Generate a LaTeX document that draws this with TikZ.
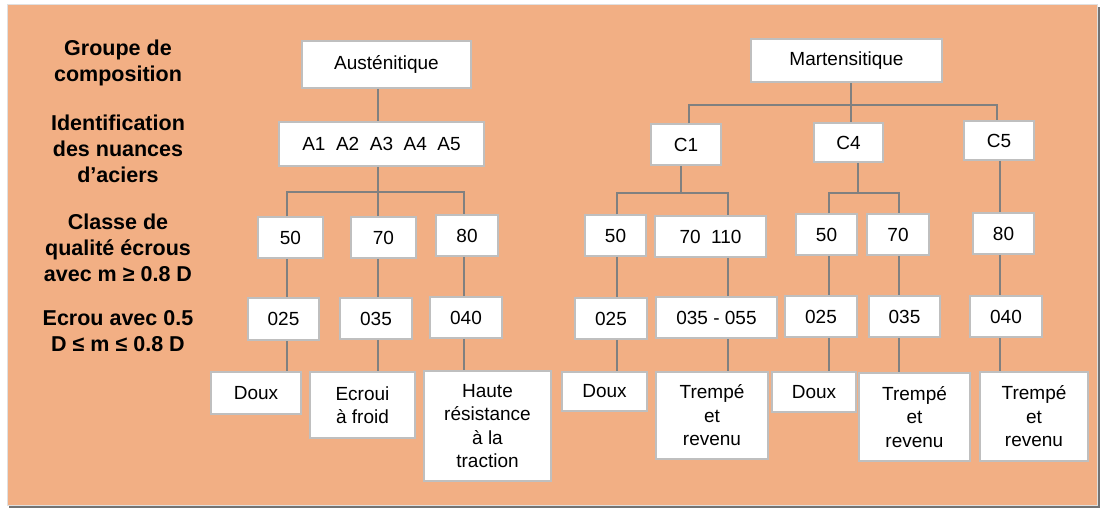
\documentclass[tikz,border=0pt]{standalone}
\usepackage{fontspec}
\setmainfont{Liberation Sans}
\definecolor{orangebg}{HTML}{F2AF84}

\begin{document}
\begin{tikzpicture}[x=0.5pt, y=-0.5pt, % 1 unit = 1 px
boxx/.style={rectangle, draw=black!25, line width=0.75pt, fill=white, inner sep=0pt, align=center, font=\fontsize{9.5}{11.75}\selectfont},
headd/.style={align=center, inner sep=0pt, font=\fontsize{10.75}{13}\selectfont\bfseries},
wh/.style 2 args={minimum width=#1*0.5pt, minimum height=#2*0.5pt},
linkk/.style={draw=black!50, line width=0.6pt},
]
  \useasboundingbox (0,0) rectangle (1104,510);
  \fill[black!55] (9,7) rectangle (1100,508);
  \fill[orangebg, draw=black!12] (7,4) rectangle (1097,505);

  \node (groupe) [headd] at (118,63) {Groupe de\\composition};
  \node (identif) [headd] at (118,149) {Identification\\des nuances\\d’aciers};
  \node (classe) [headd] at (118,247.5) {Classe de\\qualité écrous\\avec m ≥ 0.8 D};
  \node (ecrou) [headd] at (118,331.5) {Ecrou avec 0.5\\D ≤ m ≤ 0.8 D};

  \node (austenitique) [boxx, wh={169}{47}] at (386.5,64.5) {Austénitique};
  \node (nuancesA) [boxx, wh={205}{44}] at (381.5,144) {A1~~A2~~A3~~A4~~A5};
  \node (classeA50) [boxx, wh={65}{41}] at (290.5,237.5) {50};
  \node (classeA70) [boxx, wh={65}{41}] at (383.5,237.5) {70};
  \node (classeA80) [boxx, wh={62}{41}] at (467,235.5) {80};
  \node (ecrouA025) [boxx, wh={71}{42}] at (283.5,319) {025};
  \node (ecrouA035) [boxx, wh={72}{41}] at (376,318.5) {035};
  \node (ecrouA040) [boxx, wh={72}{41}] at (466,317.5) {040};
  \node (etatA1) [boxx, wh={90}{42}] at (256,393) {Doux};
  \node (etatA2) [boxx, wh={105}{66}] at (362.5,405) {Ecroui\\à froid};
  \node (etatA3) [boxx, wh={127}{110}] at (487.5,426) {Haute\\résistance\\à la\\traction};

  \node (martensitique) [boxx, wh={191}{43}] at (846.5,60.5) {Martensitique};
  \node (nuanceC1) [boxx, wh={70}{41}] at (686,144.5) {C1};
  \node (nuanceC4) [boxx, wh={69}{39}] at (848.5,142.5) {C4};
  \node (nuanceC5) [boxx, wh={70}{39}] at (999,140.5) {C5};
  \node (classeC1a) [boxx, wh={61}{41}] at (615.5,235.5) {50};
  \node (classeC1b) [boxx, wh={111}{41}] at (710.5,236.5) {70~~110};
  \node (classeC4a) [boxx, wh={61}{41}] at (826.5,234.5) {50};
  \node (classeC4b) [boxx, wh={62}{41}] at (898,234.5) {70};
  \node (classeC5) [boxx, wh={61}{41}] at (1003.5,233.5) {80};
  \node (ecrouC1a) [boxx, wh={72}{41}] at (611,318.5) {025};
  \node (ecrouC1b) [boxx, wh={121}{41}] at (716.5,317.5) {035 - 055};
  \node (ecrouC4a) [boxx, wh={72}{41}] at (821,316.5) {025};
  \node (ecrouC4b) [boxx, wh={71}{41}] at (904.5,316.5) {035};
  \node (ecrouC5) [boxx, wh={72}{41}] at (1006,316.5) {040};
  \node (etatC1a) [boxx, wh={85}{39}] at (604.5,391.5) {Doux};
  \node (etatC1b) [boxx, wh={112}{87}] at (712,415.5) {Trempé\\et\\revenu};
  \node (etatC4a) [boxx, wh={84}{40}] at (814,392) {Doux};
  \node (etatC4b) [boxx, wh={111}{88}] at (914.5,417) {Trempé\\et\\revenu};
  \node (etatC5) [boxx, wh={108}{89}] at (1034,416.5) {Trempé\\et\\revenu};

  % columns and buses
  \coordinate (colA1) at (287,0);
  \coordinate (colA2) at (378,0);
  \coordinate (colA3) at (464,0);
  \coordinate (busA) at (0,192);
  \coordinate (colM) at (851,0);
  \coordinate (colC1top) at (689,0);
  \coordinate (colC5top) at (997,0);
  \coordinate (busM) at (0,105);
  \coordinate (colC1) at (681,0);
  \coordinate (colC1a) at (617,0);
  \coordinate (colC1b) at (728,0);
  \coordinate (colC4) at (858,0);
  \coordinate (colC4a) at (829,0);
  \coordinate (colC4b) at (899,0);
  \coordinate (colC5) at (1000,0);
  \coordinate (busC) at (0,193);

  \draw[linkk] (austenitique.south -| colA2) -- (nuancesA.north -| colA2);
  \draw[linkk] (nuancesA.south -| colA2) -- (classeA70.north -| colA2);
  \draw[linkk] (classeA50.north -| colA1) |- (busA -| colA3) -- (classeA80.north -| colA3);
  \draw[linkk] (classeA50.south -| colA1) -- (ecrouA025.north -| colA1);
  \draw[linkk] (ecrouA025.south -| colA1) -- (etatA1.north -| colA1);
  \draw[linkk] (classeA70.south -| colA2) -- (ecrouA035.north -| colA2);
  \draw[linkk] (ecrouA035.south -| colA2) -- (etatA2.north -| colA2);
  \draw[linkk] (classeA80.south -| colA3) -- (ecrouA040.north -| colA3);
  \draw[linkk] (ecrouA040.south -| colA3) -- (etatA3.north -| colA3);

  \draw[linkk] (martensitique.south -| colM) -- (nuanceC4.north -| colM);
  \draw[linkk] (nuanceC1.north -| colC1top) |- (busM -| colC5top) -- (nuanceC5.north -| colC5top);
  \draw[linkk] (nuanceC1.south -| colC1) -- (busC -| colC1);
  \draw[linkk] (classeC1a.north -| colC1a) |- (busC -| colC1b) -- (classeC1b.north -| colC1b);
  \draw[linkk] (nuanceC4.south -| colC4) -- (busC -| colC4);
  \draw[linkk] (classeC4a.north -| colC4a) |- (busC -| colC4b) -- (classeC4b.north -| colC4b);
  \draw[linkk] (nuanceC5.south -| colC5) -- (classeC5.north -| colC5);

  \draw[linkk] (classeC1a.south -| colC1a) -- (ecrouC1a.north -| colC1a);
  \draw[linkk] (ecrouC1a.south -| colC1a) -- (etatC1a.north -| colC1a);
  \draw[linkk] (classeC1b.south -| colC1b) -- (ecrouC1b.north -| colC1b);
  \draw[linkk] (ecrouC1b.south -| colC1b) -- (etatC1b.north -| colC1b);
  \draw[linkk] (classeC4a.south -| colC4a) -- (ecrouC4a.north -| colC4a);
  \draw[linkk] (ecrouC4a.south -| colC4a) -- (etatC4a.north -| colC4a);
  \draw[linkk] (classeC4b.south -| colC4b) -- (ecrouC4b.north -| colC4b);
  \draw[linkk] (ecrouC4b.south -| colC4b) -- (etatC4b.north -| colC4b);
  \draw[linkk] (classeC5.south -| colC5) -- (ecrouC5.north -| colC5);
  \draw[linkk] (ecrouC5.south -| colC5) -- (etatC5.north -| colC5);
\end{tikzpicture}
\end{document}
